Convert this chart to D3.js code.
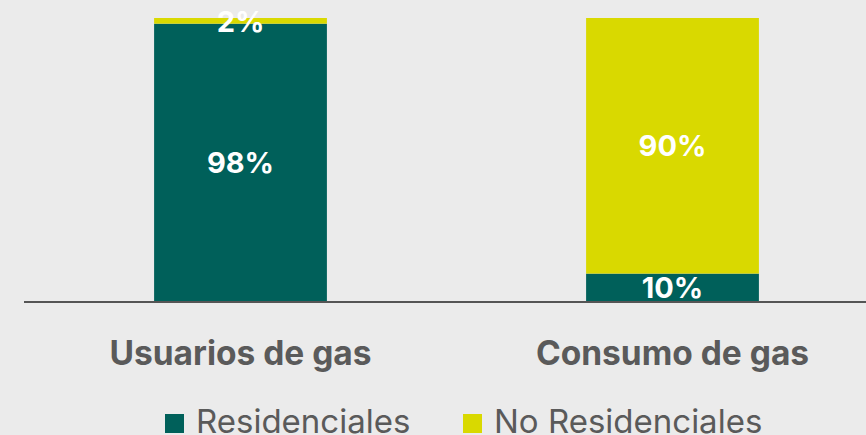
<!DOCTYPE html>
<html>
<head>
<meta charset="utf-8">
<script src="https://cdn.jsdelivr.net/npm/d3@7"></script>
<style>
  body { margin: 0; background: #ebebeb; }
  svg { display: block; }
</style>
</head>
<body>
<script>
var width = 866, height = 435;

var categories = ["Usuarios de gas", "Consumo de gas"];
var series = ["Residenciales", "No Residenciales"];
var residenciales = [98, 10];
var noResidenciales = [2, 90];
var colors = ["#00605a", "#d9d900"];

var data = categories.map(function(c, i) {
    return { cat: c, Residenciales: residenciales[i], "No Residenciales": noResidenciales[i] };
});
var stacked = d3.stack().keys(series)(data);

var svg = d3.select("body")
            .append("svg")
            .attr("width", width)
            .attr("height", height);

svg.append("rect").attr("width", width).attr("height", height).attr("fill", "#ebebeb");

var x = d3.scaleBand()
          .domain(categories)
          .range([24.5, 888.5])
          .paddingInner(0.6)
          .paddingOuter(0.3);

var y = d3.scaleLinear().domain([0, 100]).range([302, 18]);

var font = "Inter, 'Open Sans', sans-serif";

var layers = svg.selectAll("g.layer")
   .data(stacked)
   .enter()
   .append("g")
   .attr("class", "layer")
   .attr("fill", function(d, i) { return colors[i]; });

layers.selectAll("rect")
   .data(function(d) { return d; })
   .enter()
   .append("rect")
   .attr("x", function(d) { return x(d.data.cat); })
   .attr("y", function(d) { return y(d[1]); })
   .attr("width", x.bandwidth())
   .attr("height", function(d) { return y(d[0]) - y(d[1]); });

// axis line
svg.append("line")
   .attr("x1", 24).attr("x2", width)
   .attr("y1", 302).attr("y2", 302)
   .attr("stroke", "#555555")
   .attr("stroke-width", 2);

// value labels
layers.selectAll("text")
   .data(function(d) { return d; })
   .enter()
   .append("text")
   .text(function(d) { return (d[1] - d[0]) + "%"; })
   .attr("x", function(d) { return x(d.data.cat) + x.bandwidth() / 2; })
   .attr("y", function(d) {
        var mid = (y(d[0]) + y(d[1])) / 2;
        if (d[1] - d[0] < 5) mid = y(d[1]) + 4; // small slice
        return mid;
   })
   .attr("dy", "0.36em")
   .attr("text-anchor", "middle")
   .attr("font-family", font)
   .attr("font-weight", "bold")
   .attr("font-size", "29px")
   .attr("fill", "white");

// category labels
svg.selectAll("text.cat")
   .data(categories)
   .enter()
   .append("text")
   .attr("class", "cat")
   .text(function(d) { return d; })
   .attr("x", function(d) { return x(d) + x.bandwidth() / 2; })
   .attr("y", 365)
   .attr("text-anchor", "middle")
   .attr("font-family", font)
   .attr("font-weight", "bold")
   .attr("font-size", "33.5px")
   .attr("fill", "#5a5a5a");

// legend
var legendX = [165, 463];
var legend = svg.selectAll("g.legend")
   .data(series)
   .enter()
   .append("g")
   .attr("class", "legend")
   .attr("transform", function(d, i) { return "translate(" + legendX[i] + ",0)"; });

legend.append("rect")
   .attr("x", 0).attr("y", 414)
   .attr("width", 19).attr("height", 19)
   .attr("fill", function(d, i) { return colors[i]; });

legend.append("text")
   .text(function(d) { return d; })
   .attr("x", 31)
   .attr("y", 433)
   .attr("font-family", font)
   .attr("font-size", "33px")
   .attr("fill", "#5a5a5a");
</script>
</body>
</html>
